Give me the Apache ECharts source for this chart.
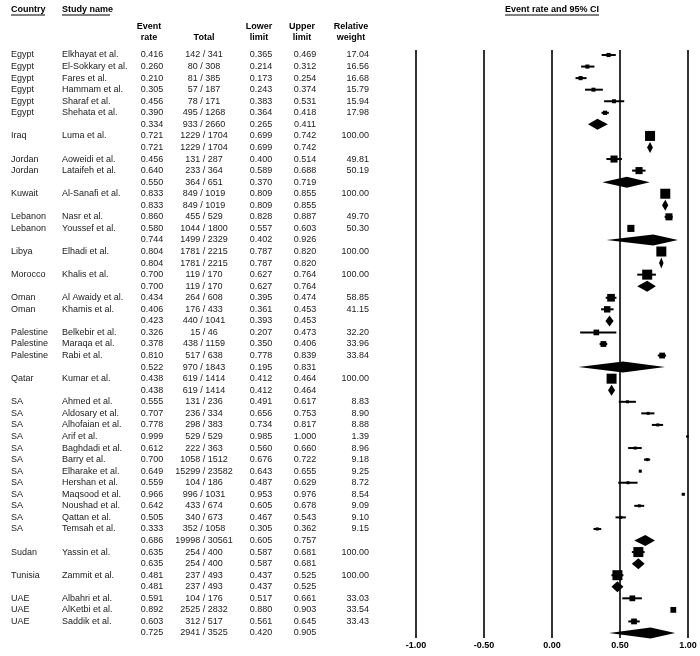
<!DOCTYPE html>
<html><head><meta charset="utf-8">
<script src="https://cdn.jsdelivr.net/npm/echarts@6/dist/echarts.min.js"></script>
<style>html,body{margin:0;padding:0;background:#fff}#c{width:700px;height:656px}</style>
</head><body><div id="c"></div>
<script>
// ---------------- DATA ----------------
const countries = ['Egypt','Egypt','Egypt','Egypt','Egypt','Egypt','',
  'Iraq','',
  'Jordan','Jordan','',
  'Kuwait','',
  'Lebanon','Lebanon','',
  'Libya','',
  'Morocco','',
  'Oman','Oman','',
  'Palestine','Palestine','Palestine','',
  'Qatar','',
  'SA','SA','SA','SA','SA','SA','SA','SA','SA','SA','SA','SA','',
  'Sudan','',
  'Tunisia','',
  'UAE','UAE','UAE',''];
const studies = ['Elkhayat et al.','El-Sokkary et al.','Fares et al.','Hammam et al.','Sharaf et al.','Shehata et al.','',
  'Luma et al.','',
  'Aoweidi et al.','Lataifeh et al.','',
  'Al-Sanafi et al.','',
  'Nasr et al.','Youssef et al.','',
  'Elhadi et al.','',
  'Khalis et al.','',
  'Al Awaidy et al.','Khamis et al.','',
  'Belkebir et al.','Maraqa et al.','Rabi et al.','',
  'Kumar et al.','',
  'Ahmed et al.','Aldosary et al.','Alhofaian et al.','Arif et al.','Baghdadi et al.','Barry et al.','Elharake et al.','Hershan et al.','Maqsood et al.','Noushad et al.','Qattan et al.','Temsah et al.','',
  'Yassin et al.','',
  'Zammit et al.','',
  'Albahri et al.','AlKetbi et al.','Saddik et al.',''];
const rates = [0.416,0.260,0.210,0.305,0.456,0.390,0.334,
  0.721,0.721,
  0.456,0.640,0.550,
  0.833,0.833,
  0.860,0.580,0.744,
  0.804,0.804,
  0.700,0.700,
  0.434,0.406,0.423,
  0.326,0.378,0.810,0.522,
  0.438,0.438,
  0.555,0.707,0.778,0.999,0.612,0.700,0.649,0.559,0.966,0.642,0.505,0.333,0.686,
  0.635,0.635,
  0.481,0.481,
  0.591,0.892,0.603,0.725];
const totals = ['142 / 341','80 / 308','81 / 385','57 / 187','78 / 171','495 / 1268','933 / 2660',
  '1229 / 1704','1229 / 1704',
  '131 / 287','233 / 364','364 / 651',
  '849 / 1019','849 / 1019',
  '455 / 529','1044 / 1800','1499 / 2329',
  '1781 / 2215','1781 / 2215',
  '119 / 170','119 / 170',
  '264 / 608','176 / 433','440 / 1041',
  '15 / 46','438 / 1159','517 / 638','970 / 1843',
  '619 / 1414','619 / 1414',
  '131 / 236','236 / 334','298 / 383','529 / 529','222 / 363','1058 / 1512','15299 / 23582','104 / 186','996 / 1031','433 / 674','340 / 673','352 / 1058','19998 / 30561',
  '254 / 400','254 / 400',
  '237 / 493','237 / 493',
  '104 / 176','2525 / 2832','312 / 517','2941 / 3525'];
const lowers = [0.365,0.214,0.173,0.243,0.383,0.364,0.265,
  0.699,0.699,
  0.400,0.589,0.370,
  0.809,0.809,
  0.828,0.557,0.402,
  0.787,0.787,
  0.627,0.627,
  0.395,0.361,0.393,
  0.207,0.350,0.778,0.195,
  0.412,0.412,
  0.491,0.656,0.734,0.985,0.560,0.676,0.643,0.487,0.953,0.605,0.467,0.305,0.605,
  0.587,0.587,
  0.437,0.437,
  0.517,0.880,0.561,0.420];
const uppers = [0.469,0.312,0.254,0.374,0.531,0.418,0.411,
  0.742,0.742,
  0.514,0.688,0.719,
  0.855,0.855,
  0.887,0.603,0.926,
  0.820,0.820,
  0.764,0.764,
  0.474,0.453,0.453,
  0.473,0.406,0.839,0.831,
  0.464,0.464,
  0.617,0.753,0.817,1.000,0.660,0.722,0.655,0.629,0.976,0.678,0.543,0.362,0.757,
  0.681,0.681,
  0.525,0.525,
  0.661,0.903,0.645,0.905];
const weights = [17.04,16.56,16.68,15.79,15.94,17.98,null,
  100.00,null,
  49.81,50.19,null,
  100.00,null,
  49.70,50.30,null,
  100.00,null,
  100.00,null,
  58.85,41.15,null,
  32.20,33.96,33.84,null,
  100.00,null,
  8.83,8.90,8.88,1.39,8.96,9.18,9.25,8.72,8.54,9.09,9.10,9.15,null,
  100.00,null,
  100.00,null,
  33.03,33.54,33.43,null];
const xTicks = [-1.00, -0.50, 0.00, 0.50, 1.00];

// ---------------- LAYOUT ----------------
const FONT = '"Liberation Sans", Arial, sans-serif';
const TXT = '#1a1a1a';
const N = rates.length;
const GRID_TOP = 50, GRID_BOTTOM = 18, H = 656;
const ROW0 = 55, ROWN = 633;
const step = (ROWN - ROW0) / (N - 1);
const yMin = -(ROW0 - GRID_TOP) / step;
const yMax = (N - 1) + ((H - GRID_BOTTOM) - ROWN) / step;

const cols = [
  {x: 11, align: 'left', get: i => countries[i]},
  {x: 62, align: 'left', get: i => studies[i]},
  {x: 152, align: 'center', get: i => rates[i].toFixed(3)},
  {x: 204, align: 'center', get: i => totals[i]},
  {x: 261, align: 'center', get: i => lowers[i].toFixed(3)},
  {x: 305, align: 'center', get: i => uppers[i].toFixed(3)},
  {x: 369, align: 'right', get: i => weights[i] == null ? '' : weights[i].toFixed(2)}
];

const tableData = rates.map((_, i) => [0, i]);
const plotData = rates.map((r, i) => [r, i, lowers[i], uppers[i], weights[i] == null ? -1 : weights[i]]);

function hdr(text, x, y, align, bold) {
  return {type: 'text', x: x, y: y, silent: true,
    style: {text: text, font: (bold ? 'bold ' : '') + '9px ' + FONT, fill: '#000', align: align, verticalAlign: 'middle'}};
}
function uline(x1, x2, y) {
  return {type: 'line', silent: true, shape: {x1: x1, y1: y, x2: x2, y2: y}, style: {stroke: '#000', lineWidth: 1}};
}

const chart = echarts.init(document.getElementById('c'), null, {renderer: 'canvas'});
chart.setOption({
  animation: false,
  backgroundColor: '#fff',
  grid: [
    {left: 0, width: 380, top: GRID_TOP, bottom: GRID_BOTTOM},
    {left: 416, right: 12, top: GRID_TOP, bottom: GRID_BOTTOM}
  ],
  xAxis: [
    {gridIndex: 0, type: 'value', min: 0, max: 380, show: false},
    {gridIndex: 1, type: 'value', min: xTicks[0], max: xTicks[xTicks.length - 1], interval: 0.5,
      axisLine: {show: false}, axisTick: {show: false},
      splitLine: {show: true, lineStyle: {color: '#000', width: 1.6}},
      axisLabel: {color: '#000', fontWeight: 'bold', fontSize: 9, fontFamily: FONT, margin: 3,
        formatter: v => v.toFixed(2)}}
  ],
  yAxis: [
    {gridIndex: 0, type: 'value', inverse: true, min: yMin, max: yMax, show: false},
    {gridIndex: 1, type: 'value', inverse: true, min: yMin, max: yMax, show: false}
  ],
  graphic: [
    hdr('Country', 11, 10, 'left', true), uline(11, 45, 15),
    hdr('Study name', 62, 10, 'left', true), uline(62, 110, 15),
    hdr('Event', 149, 27, 'center', true), hdr('rate', 149, 38, 'center', true),
    hdr('Total', 204, 38, 'center', true),
    hdr('Lower', 259, 27, 'center', true), hdr('limit', 259, 38, 'center', true),
    hdr('Upper', 302, 27, 'center', true), hdr('limit', 302, 38, 'center', true),
    hdr('Relative', 351, 27, 'center', true), hdr('weight', 351, 38, 'center', true),
    hdr('Event rate and 95% CI', 552, 10, 'center', true), uline(505, 599, 15)
  ],
  series: [
    {
      type: 'custom', xAxisIndex: 0, yAxisIndex: 0, silent: true,
      data: tableData,
      encode: {x: 0, y: 1},
      renderItem: function (params, api) {
        const i = params.dataIndex;
        const children = cols.map(c => {
          const p = api.coord([c.x, i]);
          return {type: 'text', style: {text: c.get(i), x: p[0], y: p[1], font: '9px ' + FONT,
            fill: TXT, align: c.align, verticalAlign: 'middle'}};
        });
        return {type: 'group', children: children};
      }
    },
    {
      type: 'custom', xAxisIndex: 1, yAxisIndex: 1, silent: true, clip: false,
      data: plotData,
      encode: {x: 0, y: 1},
      renderItem: function (params, api) {
        const r = api.value(0), i = api.value(1), lo = api.value(2), hi = api.value(3), w = api.value(4);
        const c = api.coord([r, i]), l = api.coord([lo, i]), u = api.coord([hi, i]);
        if (w < 0) {
          const hh = 5.5;
          return {type: 'polygon', shape: {points: [[l[0], c[1]], [c[0], c[1] - hh], [u[0], c[1]], [c[0], c[1] + hh]]},
            style: {fill: '#000'}};
        }
        const s = Math.max(2, Math.sqrt(w));
        return {type: 'group', children: [
          {type: 'line', shape: {x1: l[0], y1: c[1], x2: u[0], y2: c[1]}, style: {stroke: '#000', lineWidth: 2}},
          {type: 'rect', shape: {x: c[0] - s / 2, y: c[1] - s / 2, width: s, height: s}, style: {fill: '#000'}}
        ]};
      }
    }
  ]
});
</script>
</body></html>
